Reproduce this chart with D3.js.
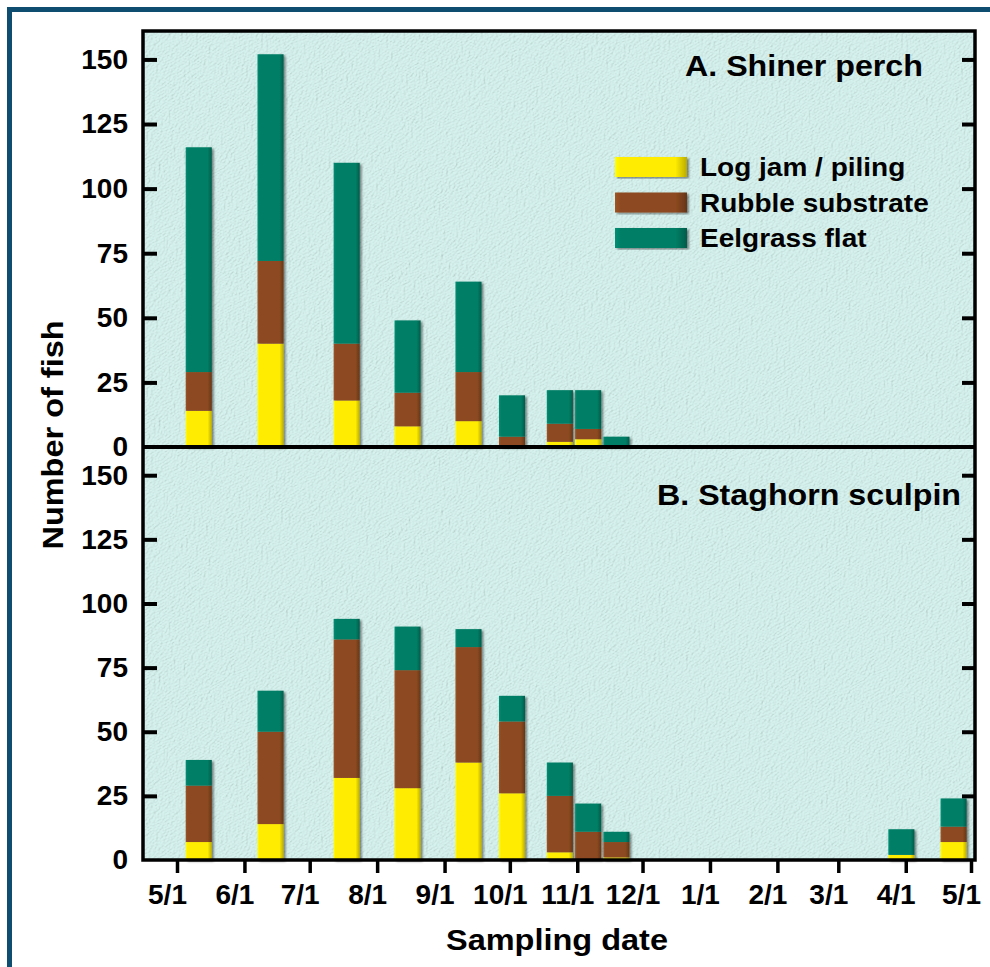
<!DOCTYPE html>
<html>
<head>
<meta charset="utf-8">
<title>Shiner perch and staghorn sculpin catches</title>
<script src="https://d3js.org/d3.v7.min.js"></script>
<style>
  body { margin: 0; background: #fff; }
  svg text { font-family: "Liberation Sans", Arial, sans-serif; font-weight: bold; fill: #000; }
</style>
</head>
<body>
<div id="chart"></div>
<script>
// sampling dates (bar centres)
const sampleDates = ["1998-05-11", "1998-06-13", "1998-07-18", "1998-08-15", "1998-09-12",
                     "1998-10-02", "1998-10-24", "1998-11-06", "1998-11-19", "1999-03-30", "1999-04-23"];

// A. Shiner perch
const shinerLog      = [14, 40, 18,  8, 10,  0,  2,  3, 0, 0, 0];
const shinerRubble   = [15, 32, 22, 13, 19,  4,  7,  4, 0, 0, 0];
const shinerEelgrass = [87, 80, 70, 28, 35, 16, 13, 15, 4, 0, 0];

// B. Staghorn sculpin
const sculpinLog      = [ 7, 14, 32, 28, 38, 26,  3,  0, 1,  2,  7];
const sculpinRubble   = [22, 36, 54, 46, 45, 28, 22, 11, 6,  0,  6];
const sculpinEelgrass = [10, 16,  8, 17,  7, 10, 13, 11, 4, 10, 11];

const habitats = ["Log jam / piling", "Rubble substrate", "Eelgrass flat"];
const habitatColors = ["#ffec00", "#8c4a20", "#007f66"];
const yTicks = [0, 25, 50, 75, 100, 125, 150];
const monthTicks = ["1998-05-01", "1998-06-01", "1998-07-01", "1998-08-01", "1998-09-01", "1998-10-01",
                    "1998-11-01", "1998-12-01", "1999-01-01", "1999-02-01", "1999-03-01", "1999-04-01", "1999-05-01"];

const parse = d3.timeParse("%Y-%m-%d");
const keys = ["log", "rubble", "eelgrass"];

function makeRows(log, rubble, eel) {
  return sampleDates.map((d, i) => ({date: parse(d), log: log[i], rubble: rubble[i], eelgrass: eel[i]}));
}

const W = 990, H = 967;
const left = 143, right = 975;
const panels = [
  {title: "A. Shiner perch", rows: makeRows(shinerLog, shinerRubble, shinerEelgrass), top: 31, bottom: 447, tx: 685, ty: 76},
  {title: "B. Staghorn sculpin", rows: makeRows(sculpinLog, sculpinRubble, sculpinEelgrass), top: 447, bottom: 860, tx: 657, ty: 505}
];

const svg = d3.select("#chart").append("svg")
  .attr("width", W).attr("height", H);

const defs = svg.append("defs");

// paper texture for the plot background
const paper = defs.append("filter").attr("id", "paper")
  .attr("x", 0).attr("y", 0).attr("width", 1).attr("height", 1);
paper.append("feTurbulence").attr("type", "fractalNoise")
  .attr("baseFrequency", "0.4 1.0").attr("numOctaves", 3).attr("seed", 5).attr("result", "n");
const light = paper.append("feDiffuseLighting").attr("in", "n")
  .attr("surfaceScale", 1.3).attr("diffuseConstant", 1)
  .attr("lighting-color", "#d8f4f0").attr("result", "lit");
light.append("feDistantLight").attr("azimuth", 225).attr("elevation", 70);
paper.append("feComposite").attr("in", "lit").attr("in2", "SourceGraphic").attr("operator", "in");

// bar shadow
const shadow = defs.append("filter").attr("id", "barShadow")
  .attr("x", "-20%").attr("y", "-5%").attr("width", "150%").attr("height", "115%");
shadow.append("feDropShadow").attr("dx", 2).attr("dy", 1.5).attr("stdDeviation", 1.2)
  .attr("flood-color", "#000").attr("flood-opacity", 0.45);

// bevel gradients for each habitat colour
habitatColors.forEach((c, i) => {
  const g = defs.append("linearGradient").attr("id", "bevel" + i)
    .attr("x1", 0).attr("x2", 1).attr("y1", 0).attr("y2", 0);
  const base = d3.color(c);
  g.append("stop").attr("offset", "0%").attr("stop-color", base.brighter(0.35));
  g.append("stop").attr("offset", "8%").attr("stop-color", base);
  g.append("stop").attr("offset", "84%").attr("stop-color", base);
  g.append("stop").attr("offset", "100%").attr("stop-color", base.darker(0.9));
});

// outer blue frame
svg.append("line").attr("x1", 7).attr("x2", W).attr("y1", 9.5).attr("y2", 9.5)
  .attr("stroke", "#0f4d70").attr("stroke-width", 5);
svg.append("line").attr("x1", 9.5).attr("x2", 9.5).attr("y1", 7).attr("y2", H)
  .attr("stroke", "#0f4d70").attr("stroke-width", 5);

// plot background
svg.append("rect").attr("x", left).attr("y", panels[0].top)
  .attr("width", right - left).attr("height", panels[1].bottom - panels[0].top)
  .attr("fill", "#c8e6e2").attr("filter", "url(#paper)");

const x = d3.scaleTime()
  .domain([parse(monthTicks[0]), parse(monthTicks[monthTicks.length - 1])])
  .range([177, 971]);

const halfWidth = d => [d3.timeDay.offset(d, -6), d3.timeDay.offset(d, 6)];

function stretch(sel, factor) {
  sel.each(function () {
    const w = this.getComputedTextLength();
    d3.select(this).attr("textLength", w * factor).attr("lengthAdjust", "spacingAndGlyphs");
  });
}

panels.forEach((p, pi) => {
  const y = d3.scaleLinear().domain([0, 161]).range([p.bottom, p.top]);
  const series = d3.stack().keys(keys)(p.rows);

  const bars = svg.append("g").attr("filter", "url(#barShadow)");
  series.forEach((s, si) => {
    bars.selectAll(null)
      .data(s.filter(d => d[1] - d[0] > 0))
      .enter().append("rect")
      .attr("x", d => x(halfWidth(d.data.date)[0]))
      .attr("width", d => x(halfWidth(d.data.date)[1]) - x(halfWidth(d.data.date)[0]))
      .attr("y", d => y(d[1]))
      .attr("height", d => y(d[0]) - y(d[1]))
      .attr("fill", "url(#bevel" + si + ")");
  });

  // left axis: ticks point inward
  const ax = svg.append("g").attr("transform", `translate(${left},0)`)
    .call(d3.axisLeft(y).tickValues(yTicks).tickSize(-14).tickPadding(15));
  ax.select(".domain").remove();
  ax.selectAll(".tick line").attr("stroke", "#000").attr("stroke-width", 4)
    .filter(d => d === 0).remove();
  ax.selectAll(".tick text").attr("font-size", 28).attr("font-family", null);

  // right axis: inward ticks, no labels
  const ar = svg.append("g").attr("transform", `translate(${right},0)`)
    .call(d3.axisRight(y).tickValues(yTicks.filter(v => v > 0)).tickSize(-13).tickFormat(""));
  ar.select(".domain").remove();
  ar.selectAll(".tick line").attr("stroke", "#000").attr("stroke-width", 4);

  // panel title
  const t = svg.append("text").attr("x", p.tx).attr("y", p.ty)
    .attr("font-size", 29).text(p.title);
  stretch(t, 1.11);
});

// bottom axis
const axb = svg.append("g").attr("transform", `translate(0,${panels[1].bottom})`)
  .call(d3.axisBottom(x).tickValues(monthTicks.map(parse))
    .tickFormat(d3.timeFormat("%-m/%-d")).tickSize(13).tickPadding(11));
axb.select(".domain").remove();
axb.selectAll(".tick line").attr("stroke", "#000").attr("stroke-width", 3.5);
axb.selectAll(".tick text").attr("font-size", 28).attr("font-family", null).attr("dx", -10);

// plot frame and panel divider
svg.append("rect").attr("x", left).attr("y", panels[0].top)
  .attr("width", right - left).attr("height", panels[1].bottom - panels[0].top)
  .attr("fill", "none").attr("stroke", "#000").attr("stroke-width", 3.5);
svg.append("line").attr("x1", left).attr("x2", right)
  .attr("y1", panels[0].bottom).attr("y2", panels[0].bottom)
  .attr("stroke", "#000").attr("stroke-width", 4);

// legend
const legend = svg.append("g").attr("transform", "translate(615,157)");
const items = legend.selectAll("g").data(habitats).enter().append("g")
  .attr("transform", (d, i) => `translate(0,${i * 35.5})`);
items.append("rect").attr("width", 72).attr("height", 20)
  .attr("fill", (d, i) => "url(#bevel" + i + ")").attr("filter", "url(#barShadow)");
const lt = items.append("text").attr("x", 85).attr("y", 10).attr("dy", "0.36em")
  .attr("font-size", 25).text(d => d);
stretch(lt, 1.12);

// axis titles
const yt = svg.append("text").attr("transform", "translate(63,435) rotate(-90)")
  .attr("text-anchor", "middle").attr("font-size", 29).text("Number of fish");
stretch(yt, 1.12);
const xt = svg.append("text").attr("x", 557).attr("y", 950)
  .attr("text-anchor", "middle").attr("font-size", 29).text("Sampling date");
stretch(xt, 1.12);
</script>
</body>
</html>
